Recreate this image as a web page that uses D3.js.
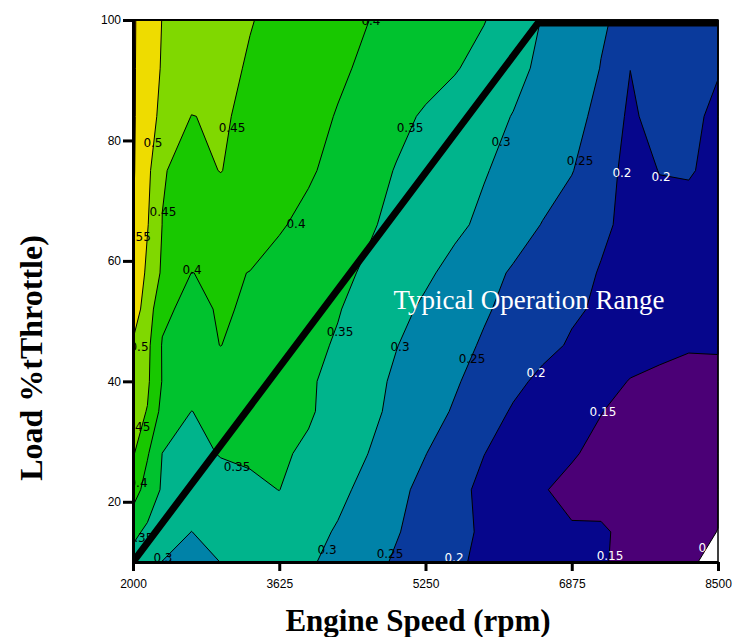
<!DOCTYPE html>
<html>
<head>
<meta charset="utf-8">
<script src="https://d3js.org/d3.v7.min.js"></script>
<style>
  body { margin: 0; background: #fff; }
  svg { display: block; }
</style>
</head>
<body>
<div id="chart"></div>
<script>
// grid columns: engine speed (rpm)
const rpm = [2000, 2160, 2325, 2650, 2975, 3300, 3625, 3950, 4275, 4600, 4925,
             5250, 5575, 5900, 6225, 6550, 6875, 7200, 7525, 7850, 8175, 8500];
// grid rows: load (% throttle), bottom row first
const load = [10, 15, 22, 28, 35, 40, 46, 52, 58, 66, 75, 84, 92, 100];

// values, one row per load
const row10  = [0.335, 0.315, 0.299, 0.285, 0.3005, 0.31, 0.315, 0.305, 0.288, 0.266, 0.2445, 0.225, 0.2055, 0.193, 0.183, 0.173, 0.1635, 0.154, 0.139, 0.122, 0.108, 0.083];
const row15  = [0.36, 0.342, 0.33, 0.2995, 0.318, 0.325, 0.325, 0.314, 0.296, 0.2746, 0.2532, 0.2316, 0.2099, 0.195, 0.18, 0.165, 0.153, 0.155, 0.14, 0.13, 0.118, 0.099];
const row22  = [0.425, 0.378, 0.345, 0.33, 0.335, 0.342, 0.3505, 0.331, 0.311, 0.2877, 0.262, 0.237, 0.2124, 0.1905, 0.1712, 0.152, 0.142, 0.135, 0.13, 0.125, 0.118, 0.11];
const row28  = [0.455, 0.405, 0.3495, 0.34, 0.352, 0.356, 0.356, 0.343, 0.3219, 0.3008, 0.276, 0.251, 0.2258, 0.2006, 0.1845, 0.1687, 0.1528, 0.142, 0.135, 0.13, 0.125, 0.12];
const row35  = [0.468, 0.448, 0.385, 0.3495, 0.36, 0.362, 0.36, 0.355, 0.3338, 0.3115, 0.2895, 0.268, 0.2457, 0.2191, 0.1958, 0.1808, 0.1659, 0.1509, 0.14, 0.132, 0.127, 0.125];
const row40  = [0.475, 0.458, 0.398, 0.39, 0.3811, 0.3723, 0.3634, 0.3546, 0.3389, 0.3152, 0.2931, 0.2739, 0.2547, 0.2325, 0.2094, 0.1914, 0.1769, 0.1624, 0.1485, 0.14, 0.132, 0.13];
const row46  = [0.495, 0.462, 0.397, 0.39, 0.4005, 0.3873, 0.374, 0.3607, 0.3458, 0.3236, 0.3014, 0.2824, 0.2637, 0.2453, 0.2279, 0.2104, 0.196, 0.178, 0.165, 0.162, 0.155, 0.157];
const row52  = [0.525, 0.4774, 0.41, 0.386, 0.405, 0.3945, 0.3806, 0.3666, 0.3526, 0.3332, 0.3124, 0.2925, 0.2736, 0.2548, 0.2377, 0.2213, 0.2049, 0.195, 0.183, 0.177, 0.172, 0.168];
const row58  = [0.545, 0.4895, 0.443, 0.3995, 0.405, 0.3993, 0.386, 0.3727, 0.3595, 0.3446, 0.326, 0.3073, 0.2868, 0.2651, 0.2451, 0.2293, 0.2134, 0.1975, 0.188, 0.183, 0.18, 0.178];
const row66  = [0.551, 0.503, 0.4494, 0.438, 0.4267, 0.4153, 0.404, 0.3891, 0.3724, 0.3556, 0.3397, 0.3243, 0.3089, 0.291, 0.2697, 0.2484, 0.2278, 0.2071, 0.19, 0.188, 0.186, 0.184];
const row75  = [0.555, 0.513, 0.452, 0.44, 0.451, 0.4355, 0.4204, 0.4053, 0.387, 0.367, 0.3478, 0.3329, 0.318, 0.303, 0.2864, 0.2693, 0.2521, 0.2205, 0.185, 0.201, 0.203, 0.19];
const row84  = [0.556, 0.518, 0.4895, 0.449, 0.455, 0.4411, 0.4268, 0.4125, 0.3978, 0.3797, 0.3617, 0.3447, 0.3293, 0.314, 0.2985, 0.28, 0.262, 0.24, 0.19, 0.223, 0.211, 0.19];
const row92  = [0.556, 0.521, 0.4966, 0.479, 0.462, 0.4458, 0.4327, 0.4195, 0.4064, 0.3932, 0.38, 0.3667, 0.3535, 0.334, 0.3125, 0.291, 0.27, 0.249, 0.2005, 0.226, 0.218, 0.203];
const row100 = [0.556, 0.525, 0.499, 0.483, 0.467, 0.452, 0.439, 0.426, 0.413, 0.401, 0.388, 0.376, 0.364, 0.352, 0.326, 0.298, 0.276, 0.254, 0.24, 0.232, 0.225, 0.218];
const rows = [row10, row15, row22, row28, row35, row40, row46, row52, row58, row66, row75, row84, row92, row100];

const levels = [0.1, 0.15, 0.2, 0.25, 0.3, 0.35, 0.4, 0.45, 0.5, 0.55];
const levelColors = ['#4b0076', '#06068c', '#0a3a9c', '#0082a8', '#00b48c',
                     '#00c22e', '#18c800', '#80d800', '#eedc00', '#c83c00'];

const xTicks = [2000, 3625, 5250, 6875, 8500];
const yTicks = [20, 40, 60, 80, 100];

// contour labels: value, rpm, load
const labels = [
  [0.5, 2222, 79.6], [0.45, 3100, 82.1], [0.4, 4644, 99.8], [0.35, 5078, 82.1],
  [0.3, 6089, 79.7], [0.25, 6967, 76.6], [0.2, 7433, 74.6], [0.2, 7867, 73.9],
  [0.45, 2333, 68.1], [0.55, 2050, 64], [0.4, 3811, 66.1], [0.4, 2656, 58.5],
  [0.5, 2067, 45.7], [0.35, 4300, 48.2], [0.3, 4967, 45.7], [0.25, 5767, 43.7],
  [0.2, 6478, 41.5], [0.45, 2044, 32.4], [0.15, 7222, 34.9], [0.35, 3156, 25.8],
  [0.4, 2056, 23.1], [0.35, 2078, 14], [0.3, 2333, 10.7], [0.3, 4156, 12],
  [0.25, 4856, 11.3], [0.2, 5567, 10.7], [0.15, 7300, 11], [0.1, 8389, 12.3]
];

// typical operation range boundary
const opRange = [[2000, 10], [6500, 99.5], [8500, 99.5]];

const width = 735, height = 637;
const x = d3.scaleLinear().domain([2000, 8500]).range([133, 718]);
const y = d3.scaleLinear().domain([10, 100]).range([562, 20]);

const svg = d3.select('#chart').append('svg')
    .attr('width', width)
    .attr('height', height);

svg.append('defs').append('clipPath').attr('id', 'plot-clip')
  .append('rect')
    .attr('x', x(2000)).attr('y', y(100))
    .attr('width', x(8500) - x(2000)).attr('height', y(10) - y(100));

const contours = d3.contours()
    .size([rpm.length, load.length])
    .thresholds(levels)(rows.flat());

// contour coordinates put sample i at i + 0.5
const gx = d3.scaleLinear().domain(rpm.map((d, i) => i + 0.5)).range(rpm).clamp(true);
const gy = d3.scaleLinear().domain(load.map((d, i) => i + 0.5)).range(load).clamp(true);
const path = d3.geoPath(d3.geoTransform({
  point(px, py) { this.stream.point(x(gx(px)), y(gy(py))); }
}));

svg.append('g')
  .selectAll('path')
  .data(contours)
  .join('path')
    .attr('d', path)
    .attr('fill', (d, i) => levelColors[i]);

svg.append('g')
  .selectAll('path')
  .data(contours)
  .join('path')
    .attr('d', path)
    .attr('fill', 'none')
    .attr('stroke', '#000')
    .attr('stroke-width', 1);

svg.append('g')
    .attr('clip-path', 'url(#plot-clip)')
  .selectAll('text')
  .data(labels)
  .join('text')
    .attr('x', d => x(d[1]))
    .attr('y', d => y(d[2]))
    .attr('dy', '0.35em')
    .attr('text-anchor', 'middle')
    .attr('fill', d => d[0] <= 0.2 ? '#fff' : '#000')
    .style('font', '12px "DejaVu Sans"')
    .text(d => d[0]);

svg.append('path')
    .datum(opRange)
    .attr('clip-path', 'url(#plot-clip)')
    .attr('d', d3.line().x(d => x(d[0])).y(d => y(d[1])))
    .attr('fill', 'none')
    .attr('stroke', '#000')
    .attr('stroke-width', 7);

svg.append('text')
    .attr('x', x(6400))
    .attr('y', y(53.5))
    .attr('dy', '0.35em')
    .attr('text-anchor', 'middle')
    .attr('fill', '#fff')
    .style('font', '27px "Liberation Serif"')
    .text('Typical Operation Range');

// plot frame
svg.append('rect')
    .attr('x', x(2000)).attr('y', y(100))
    .attr('width', x(8500) - x(2000)).attr('height', y(10) - y(100))
    .attr('fill', 'none')
    .attr('stroke', '#000')
    .attr('stroke-width', 1.5);

svg.append('g')
    .attr('transform', `translate(${x(2000)},0)`)
    .call(d3.axisLeft(y).tickValues(yTicks).tickFormat(d3.format('d'))
      .tickSize(10).tickPadding(2).tickSizeOuter(0))
    .call(g => g.select('.domain').attr('stroke-width', 3))
    .call(g => g.selectAll('.tick line').attr('stroke-width', 3))
    .call(g => g.selectAll('text').attr('fill', '#000').style('font', '12px "Liberation Sans"'));

svg.append('g')
    .attr('transform', `translate(0,${y(10)})`)
    .call(d3.axisBottom(x).tickValues(xTicks).tickFormat(d3.format('d'))
      .tickSize(9).tickPadding(8).tickSizeOuter(0))
    .call(g => g.select('.domain').attr('stroke-width', 3))
    .call(g => g.selectAll('.tick line').attr('stroke-width', 3))
    .call(g => g.selectAll('text').attr('fill', '#000').style('font', '12px "Liberation Sans"'));

svg.append('text')
    .attr('x', 418)
    .attr('y', 631)
    .attr('text-anchor', 'middle')
    .style('font', 'bold 31px "Liberation Serif"')
    .text('Engine Speed (rpm)');

svg.append('text')
    .attr('transform', 'translate(42,358) rotate(-90)')
    .attr('text-anchor', 'middle')
    .style('font', 'bold 32px "Liberation Serif"')
    .text('Load %tThrottle)');
</script>
</body>
</html>
